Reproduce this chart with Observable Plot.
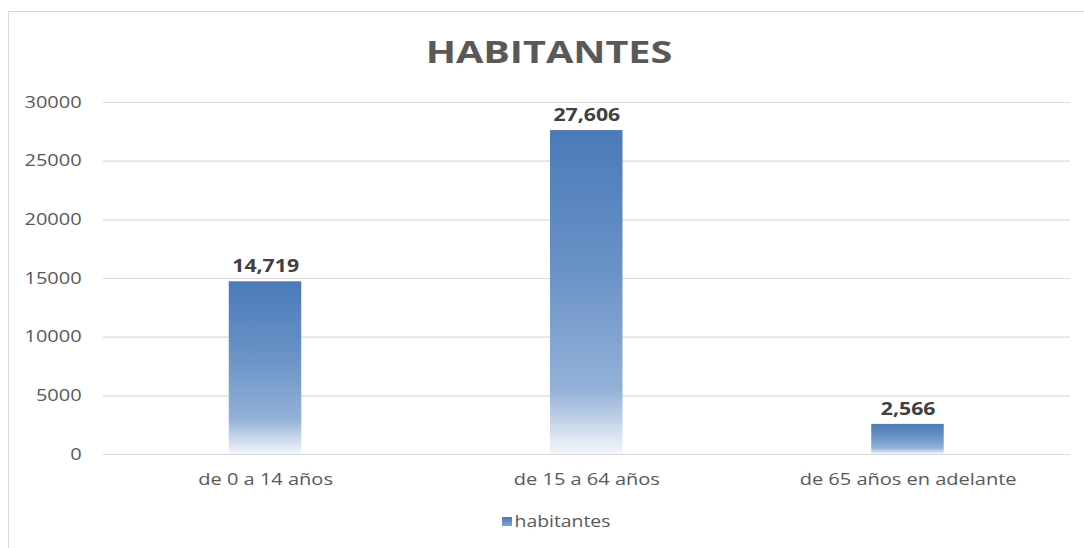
<!DOCTYPE html>
<html>
<head>
<meta charset="utf-8">
<script src="https://cdn.jsdelivr.net/npm/d3@7"></script>
<script src="https://cdn.jsdelivr.net/npm/@observablehq/plot@0.6"></script>
<style>
  html, body { margin: 0; padding: 0; background: #fff; }
  body { width: 1084px; height: 548px; position: relative; overflow: hidden; font-family: "Open Sans", sans-serif; }
  #frame { position: absolute; left: 8px; top: 11px; width: 1090px; height: 560px; border: 1px solid #d9d9d9; box-sizing: border-box; }
  #title { position: absolute; left: 0; width: 1098px; top: 30px; text-align: center; font-size: 30px; font-weight: 700; color: #595959; line-height: 44px; transform: scaleX(1.32); transform-origin: 549px 0; }
  #chart { position: absolute; left: 0; top: 80px; width: 1084px; }
  #chart svg { transform: scaleX(1.25); transform-origin: 0 0; }
  #legend { position: absolute; left: 502px; top: 510px; font-size: 15.5px; color: #595959; display: flex; align-items: center; transform: scaleX(1.25); transform-origin: 0 0; }
  #legend .sw { width: 8px; height: 9px; background: linear-gradient(#4a7ab9, #7fa3cf); margin-right: 2px; }
</style>
</head>
<body>
<div id="frame"></div>
<div id="title">HABITANTES</div>
<div id="chart"></div>
<div id="legend"><span class="sw"></span><span>habitantes</span></div>
<script>
const categories = ["de 0 a 14 años", "de 15 a 64 años", "de 65 años en adelante"];
const habitantes = [14719, 27606, 2566];
const yTicks = [0, 5000, 10000, 15000, 20000, 25000, 30000];

const data = categories.map((c, i) => ({categoria: c, valor: habitantes[i]}));
const fmt = d3.format(",");
const S = 1.25; // horizontal stretch of the reference rendering

const plot = Plot.plot({
  width: 1084 / S,
  height: 420,
  marginLeft: 103 / S,
  marginRight: 14 / S,
  marginTop: 22,
  marginBottom: 46,
  style: {fontFamily: "Open Sans, sans-serif", fontSize: "16px", color: "#595959", background: "transparent", overflow: "visible"},
  x: {domain: categories, paddingInner: 0.776, paddingOuter: 0.388, label: null},
  y: {domain: [0, 30000], label: null},
  marks: [
    Plot.ruleY(yTicks, {stroke: "#d9d9d9", strokeWidth: 1.2}),
    Plot.barY(data, {x: "categoria", y: "valor", fill: "url(#barGrad)"}),
    Plot.text(data, {x: "categoria", y: "valor", text: d => fmt(d.valor), dy: -15, fontWeight: 700, fontSize: 17, fill: "#404040"}),
    Plot.axisY({ticks: yTicks, tickFormat: d => String(d), tickSize: 0, tickPadding: 22 / S, fontSize: 16, label: null}),
    Plot.axisX({tickSize: 0, tickPadding: 19, fontSize: 16, label: null})
  ]
});

const svg = d3.select(plot);
const defs = svg.insert("defs", ":first-child");
const g = defs.append("linearGradient").attr("id", "barGrad").attr("x1", 0).attr("y1", 0).attr("x2", 0).attr("y2", 1);
g.append("stop").attr("offset", "0%").attr("stop-color", "#4a7ab9");
g.append("stop").attr("offset", "45%").attr("stop-color", "#6b94c7");
g.append("stop").attr("offset", "80%").attr("stop-color", "#93b1d7");
g.append("stop").attr("offset", "100%").attr("stop-color", "#f4f7fb");

document.getElementById("chart").appendChild(plot);
</script>
</body>
</html>
